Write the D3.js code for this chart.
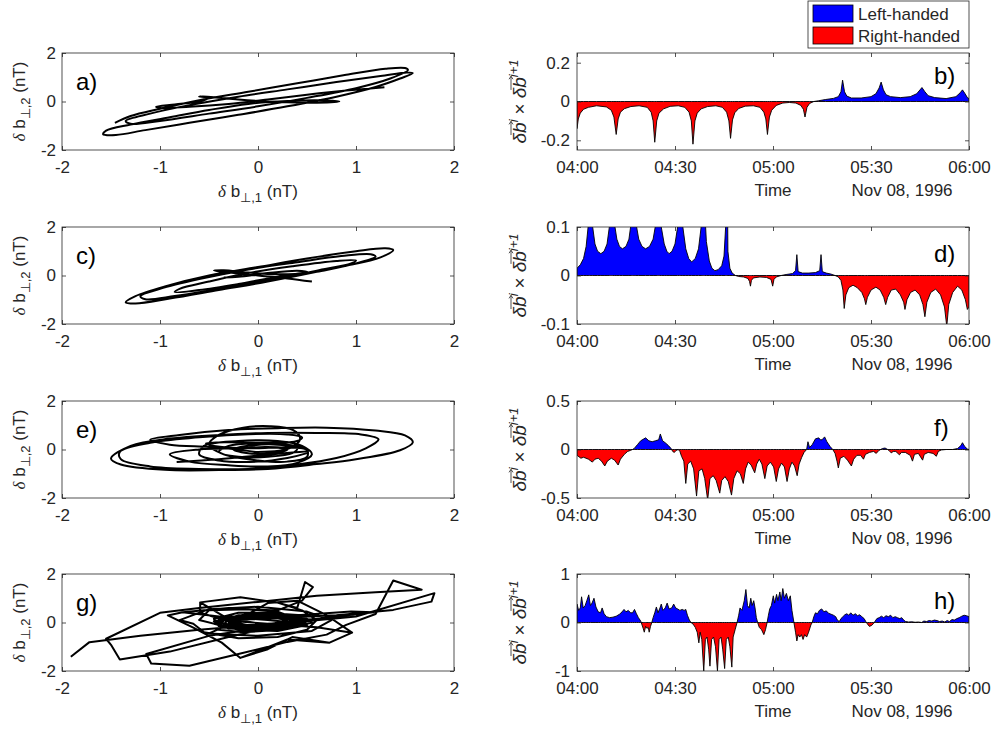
<!DOCTYPE html>
<html>
<head>
<meta charset="utf-8">
<script src="https://cdn.jsdelivr.net/npm/d3@7"></script>
<style>
  body { margin: 0; background: #fff; }
  text { font-family: "Liberation Sans", Arial, sans-serif; fill: #262626; }
</style>
</head>
<body>
<div id="chart"></div>
<script>
// ---- data ----
// hodograms: [delta b perp1, delta b perp2] in nT
var hodoA = [[1.29,0.59],[0.9,0.45],[0.5,0.28],[0.1,0.08],[-0.3,-0.1],[-0.7,-0.22],[-1.0,-0.27],[-1.04,-0.22],[-0.85,-0.12],[-0.6,0.0],
  [-0.5,0.15],[-0.6,0.21],[-0.45,0.18],[-0.2,0.08],[0.2,-0.02],[0.6,-0.05],[0.83,0.0],[0.7,0.04],[0.3,0.02],[-0.1,-0.1],
  [-0.5,-0.35],[-0.9,-0.65],[-1.3,-0.95],[-1.55,-1.2],[-1.58,-1.35],[-1.45,-1.38],[-1.15,-1.18],[-0.7,-0.88],[-0.2,-0.55],[0.3,-0.2],
  [0.8,0.2],[1.2,0.6],[1.45,0.95],[1.58,1.17],[1.52,1.2],[1.25,1.05],[0.8,0.8],[0.3,0.5],[-0.2,0.2],[-0.7,-0.15],
  [-1.1,-0.5],[-1.35,-0.8],[-1.3,-0.92],[-1.0,-0.8],[-0.5,-0.5],[0,-0.2],[0.5,0.15],[1.0,0.55],[1.35,0.95],[1.53,1.3],
  [1.5,1.38],[1.3,1.35],[0.9,1.1],[0.4,0.75],[-0.1,0.4],[-0.6,0.05],[-1.0,-0.3],[-1.3,-0.6],[-1.46,-0.88]];
var hodoC = [[0.55,-0.25],[0.3,-0.12],[0,0],[-0.3,0.12],[-0.45,0.2],[-0.35,0.22],[-0.1,0.12],[0.2,0.05],[0.5,0.1],[0.9,0.4],
  [1.25,0.75],[1.38,1.05],[1.3,1.12],[1.0,1.0],[0.5,0.7],[0,0.35],[-0.5,0.0],[-0.95,-0.45],[-1.25,-0.85],[-1.35,-1.1],
  [-1.25,-1.15],[-0.9,-0.95],[-0.4,-0.6],[0.1,-0.25],[0.6,0.15],[1.0,0.5],[1.2,0.78],[1.15,0.88],[0.85,0.8],[0.4,0.55],
  [-0.1,0.25],[-0.6,-0.15],[-1.0,-0.55],[-1.2,-0.85],[-1.15,-0.98],[-0.85,-0.85],[-0.4,-0.55],[0.1,-0.2],[0.6,0.2],[0.95,0.5],
  [1.0,0.62],[0.8,0.6],[0.35,0.38],[-0.1,0.1],[-0.5,-0.25],[-0.8,-0.55],[-0.85,-0.68],[-0.6,-0.6],[-0.2,-0.35],[0.2,-0.05],
  [0.5,0.15],[0.4,0.2],[0.1,0.1],[-0.2,-0.05],[-0.35,-0.08]];
var hodoE = [[-0.83,-0.52],[-0.4,-0.4],[0,-0.25],[0.35,-0.12],[0.52,-0.05],[0.45,0.05],[0.2,0.08],[-0.1,0.05],[-0.45,0.15],[-0.53,0.25],
  [-0.3,0.3],[0.1,0.28],[0.4,0.35],[0.45,0.5],[0.3,0.62],[-0.1,0.63],[-0.6,0.5],[-1.1,0.28],[-1.41,-0.1],[-1.4,-0.4],
  [-1.1,-0.7],[-0.6,-0.8],[-0.1,-0.8],[0.4,-0.62],[0.8,-0.35],[1.1,0.05],[1.23,0.42],[1.05,0.62],[0.6,0.68],[0.1,0.68],
  [-0.4,0.6],[-0.9,0.45],[-1.3,0.15],[-1.5,-0.38],[-1.4,-0.62],[-0.95,-0.84],[-0.4,-0.85],[0.1,-0.8],[0.6,-0.6],[1.0,-0.4],
  [1.45,-0.03],[1.58,0.3],[1.5,0.58],[1.2,0.78],[0.7,0.9],[0.2,0.88],[-0.3,0.8],[-0.8,0.6],[-1.1,0.4],[-0.9,0.2],
  [-0.5,0.1],[-0.2,0.0],[0,-0.1],[0.35,0.1],[0.43,0.45],[0.36,0.8],[0.12,0.96],[-0.15,0.9],[-0.4,0.6],[-0.5,0.2],
  [-0.35,-0.2],[0,-0.45],[0.3,-0.5],[0.5,-0.3],[0.5,0.0],[0.3,0.2],[0,0.25],[-0.3,0.15],[-0.4,-0.1],[-0.2,-0.3],
  [0.1,-0.3],[0.35,-0.15],[0.4,0.05],[0.2,0.2],[-0.1,0.15],[-0.25,0],[-0.1,-0.15],[0.15,-0.15],[0.3,0],[0.1,0.1],
  [-0.2,0.05],[-0.6,0],[-0.9,-0.2],[-0.7,-0.5],[-0.3,-0.65],[0.1,-0.7],[0.4,-0.55],[0.55,-0.2],[0.45,0.15],[0.2,0.35],
  [-0.2,0.35],[-0.55,0.15],[-0.6,-0.2],[-0.4,-0.45],[0,-0.5],[0.3,-0.35],[0.5,-0.15]];
var hodoG = [[-1.91,-1.41],[-1.72,-0.81],[-1.2,-0.55],[-0.6,-0.3],[0,-0.1],[0.6,0.15],[1.18,0.42],[0.95,0.45],[0.4,0.3],[-0.2,0.15],
  [-0.77,0.42],[-0.92,0.29],[-0.66,-0.21],[-0.37,-0.83],[-0.18,-1.46],[0.1,-1.1],[0.35,-0.6],[0.73,-0.83],[0.96,-0.42],[0.6,-0.2],
  [-0.4,0.1],[-0.1,0.35],[0.3,0.3],[0.5,0.05],[0.3,-0.25],[-0.1,-0.35],[-0.4,-0.15],[-0.45,0.15],[-0.2,0.4],[0.2,0.4],
  [0.45,0.2],[0.5,-0.1],[0.2,-0.35],[-0.2,-0.3],[-0.45,-0.05],[-0.3,0.25],[0.1,0.3],[0.4,0.1],[0.35,-0.2],[0,-0.25],
  [-0.35,-0.1],[-0.3,0.15],[0,0.2],[0.3,0.15],[0.45,-0.05],[0.2,-0.2],[-0.15,-0.2],[-0.4,0.0],[-0.2,0.3],[0.2,0.25],
  [0.5,0.15],[0.4,-0.15],[0.05,-0.3],[-0.3,-0.25],[-0.45,0.05],[-0.25,0.2],[0.1,0.1],[0.35,0.0],[0.15,-0.1],[-0.2,-0.1],
  [-0.59,0.83],[-0.18,1.04],[0.19,0.83],[0.4,0.6],[0.48,1.67],[0.56,1.46],[0.45,0.9],[0.2,0.5],[-0.1,0.55],[-0.5,0.5],
  [-0.6,0.1],[-0.3,-0.2],[0.2,-0.3],[0.45,0],[0.2,0.25],[-0.2,0.1],[0.1,-0.1],[0.3,0.1],[0.0,0.3],[-0.3,0.0],
  [0,-0.25],[-0.5,-0.55],[-1.14,-1.3],[-1.09,-1.69],[-0.7,-1.78],[-0.2,-1.3],[0.3,-0.8],[0.7,-0.5],[0.9,-0.1],[1.2,0.35],
  [1.38,1.73],[1.67,1.35],[1.2,1.25],[0.6,1.1],[0,0.85],[-0.6,0.6],[-1.0,0.4],[-1.55,-0.67],[-1.5,-0.92],[-1.41,-1.53],
  [-0.9,-1.2],[-0.3,-0.6],[0.35,0.0],[1.0,0.25],[1.8,1.21],[1.77,0.86],[1.38,0.52],[0.8,0.3],[0.2,0.2],[-0.35,0.1],
  [-0.05,0.25],[0.25,0.35],[0.45,0.3],[0.55,0],[0.25,-0.3],[-0.15,-0.4],[-0.4,-0.3],[-0.35,0.1],[0,0.15],[0.3,0.25],
  [0.55,0.1],[0.3,-0.1],[-0.05,-0.15],[-0.3,0.05],[-0.59,0.4],[-0.59,0.83],[-0.18,1.04],[0.19,0.83],[0.45,0.5],[0.6,0.1],
  [0.5,-0.3],[0.2,-0.6],[-0.2,-0.65],[-0.55,-0.4],[-0.66,-0.05],[-0.8,0.1],[-0.5,0.55],[0,0.65],[0.5,0.45],[0.75,0.1],
  [0.55,-0.35],[0,-0.55],[-0.5,-0.45],[-0.3,-0.1],[0.1,0.8],[0.4,0.9],[0.7,0.3],[0.96,-0.42],[0.73,-0.83],[0.3,-0.7],
  [-0.18,-1.46],[-0.37,-0.83],[-0.66,-0.21],[-0.92,0.29],[-0.77,0.42],[-0.3,0.6],[0.2,0.45],[0.4,0.15],[0.1,-0.2],[-0.25,-0.15]];

// helicity series: [minutes after 04:00, value]
var seriesB = [[0,-0.14],[0.4,-0.09],[1,-0.06],[2,-0.04],[3.5,-0.03],[6,-0.022],[9,-0.028],[10.5,-0.045],[11.3,-0.08],[12,-0.17],
  [12.6,-0.09],[13.3,-0.055],[14.5,-0.037],[16.5,-0.026],[19,-0.022],[21.5,-0.03],[22.7,-0.055],[23.3,-0.1],[23.8,-0.21],[24.4,-0.1],
  [25.1,-0.06],[26.5,-0.038],[28.5,-0.025],[31,-0.022],[33,-0.03],[34.3,-0.055],[35,-0.1],[35.5,-0.22],[36.1,-0.1],[36.8,-0.06],
  [38,-0.038],[40,-0.026],[42.5,-0.022],[44.5,-0.03],[45.8,-0.055],[46.5,-0.1],[47,-0.19],[47.6,-0.095],[48.3,-0.058],[49.5,-0.036],
  [51.5,-0.024],[54,-0.022],[56,-0.03],[57.2,-0.055],[57.8,-0.09],[58.3,-0.17],[58.9,-0.08],[59.6,-0.045],[61,-0.02],[63,-0.008],
  [65,-0.005],[67,-0.008],[68.5,-0.02],[69.3,-0.04],[69.8,-0.08],[70.4,-0.03],[71.2,-0.01],[72.5,0],[74,0.004],[76,0.01],
  [78.5,0.016],[80,0.025],[80.8,0.05],[81.3,0.11],[81.9,0.05],[82.6,0.028],[84,0.018],[87,0.018],[90,0.025],[91.5,0.04],
  [92.5,0.07],[93.1,0.1],[93.8,0.06],[94.6,0.035],[96,0.025],[99,0.02],[102,0.025],[104,0.04],[105,0.06],[105.6,0.072],
  [106.5,0.05],[107.5,0.03],[109.5,0.02],[113,0.015],[116,0.025],[117.3,0.045],[118,0.06],[118.8,0.04],[119.5,0.02],[120,0.015]];
var seriesD = [[0,0.015],[1,0.022],[2,0.035],[2.8,0.06],[3.4,0.1],[3.8,0.2],[4.0,0.35],[4.3,0.2],[4.8,0.1],[5.5,0.065],
  [6.3,0.05],[7.3,0.045],[8.3,0.05],[9.2,0.065],[9.9,0.1],[10.3,0.2],[10.6,0.35],[10.9,0.2],[11.4,0.11],[12.2,0.075],
  [13,0.06],[13.9,0.055],[15,0.06],[15.9,0.075],[16.6,0.11],[17,0.2],[17.2,0.35],[17.5,0.2],[18,0.11],[18.9,0.075],
  [19.9,0.06],[21,0.055],[22.2,0.06],[23.3,0.075],[24.2,0.11],[24.7,0.2],[24.9,0.35],[25.2,0.2],[25.8,0.1],[26.7,0.065],
  [27.5,0.05],[28.2,0.045],[29.1,0.05],[30,0.065],[30.8,0.1],[31.3,0.2],[31.5,0.35],[31.8,0.2],[32.4,0.1],[33.3,0.055],
  [34.2,0.035],[35.1,0.028],[36.2,0.035],[37.2,0.055],[38,0.1],[38.5,0.2],[38.7,0.35],[39,0.15],[39.6,0.07],[40.5,0.03],
  [41.3,0.015],[42.2,0.01],[43.2,0.012],[44.3,0.02],[45,0.04],[45.5,0.1],[45.7,0.3],[45.9,0.3],[46.2,0.05],[46.8,0.015],
  [47.5,0.005],[48.5,0],[49.5,-0.002],[51,-0.003],[52.3,-0.006],[52.8,-0.012],[53.1,-0.022],[53.4,-0.01],[54,-0.005],[56,-0.003],
  [58,-0.004],[59.4,-0.008],[59.9,-0.022],[60.3,-0.008],[61,-0.003],[62.5,0],[64,0.002],[66,0.004],[66.9,0.01],[67.3,0.043],
  [67.7,0.008],[69,0.005],[71,0.005],[73,0.006],[74.3,0.01],[74.7,0.043],[75.1,0.008],[76.3,0.005],[77.7,0.003],[79,0],
  [80,-0.003],[80.8,-0.01],[81.4,-0.03],[81.8,-0.068],[82.3,-0.04],[83.2,-0.025],[84.5,-0.02],[85.8,-0.025],[87.2,-0.035],[88,-0.048],
  [88.4,-0.06],[88.9,-0.045],[90,-0.03],[91.5,-0.024],[92.8,-0.03],[93.9,-0.045],[94.5,-0.06],[95.1,-0.045],[96.2,-0.03],[97.6,-0.028],
  [99,-0.04],[100,-0.055],[100.4,-0.07],[101,-0.05],[102.1,-0.035],[103.5,-0.03],[104.9,-0.04],[105.9,-0.06],[106.5,-0.085],[107.1,-0.055],
  [108.3,-0.035],[109.8,-0.028],[111.3,-0.04],[112.5,-0.065],[113.2,-0.105],[113.8,-0.06],[115,-0.035],[116.5,-0.022],[117.8,-0.03],[118.9,-0.05],
  [119.5,-0.07],[120,-0.065]];
var seriesF = [[0,-0.06],[1.2,-0.09],[2,-0.08],[3.5,-0.1],[4.7,-0.13],[5.5,-0.1],[6.5,-0.09],[7.5,-0.12],[8.5,-0.17],[9.3,-0.12],
  [10.5,-0.09],[11.5,-0.11],[12.6,-0.16],[13.3,-0.1],[14.5,-0.05],[15.5,-0.02],[16.3,-0.01],[17,0],[17.5,0.01],[18.5,0.05],
  [19.5,0.09],[21,0.12],[22,0.09],[23,0.08],[24,0.09],[25,0.1],[25.5,0.16],[26.2,0.09],[27,0.07],[28,0.04],
  [28.8,0.01],[29.3,-0.02],[29.8,-0.03],[30.3,-0.01],[31,0],[31.5,-0.02],[32,-0.07],[32.7,-0.12],[33.3,-0.35],[33.9,-0.15],
  [34.8,-0.12],[35.7,-0.2],[36.6,-0.48],[37.3,-0.22],[38.3,-0.2],[39.1,-0.3],[40,-0.52],[40.7,-0.3],[41.7,-0.27],[42.6,-0.32],
  [43.7,-0.45],[44.3,-0.32],[45.3,-0.28],[46.3,-0.33],[47.3,-0.47],[48,-0.3],[49,-0.22],[50,-0.25],[50.9,-0.35],[51.6,-0.2],
  [52.4,-0.13],[53.3,-0.16],[54.4,-0.24],[55,-0.15],[55.8,-0.1],[56.6,-0.15],[57.5,-0.3],[58.2,-0.17],[59.2,-0.13],[60.2,-0.18],
  [61,-0.33],[61.7,-0.2],[62.6,-0.14],[63.5,-0.18],[64.3,-0.33],[65,-0.2],[65.8,-0.13],[66.6,-0.17],[67.4,-0.27],[68,-0.15],
  [68.8,-0.08],[69.5,-0.03],[70.3,0],[70.7,0.08],[71.2,0.02],[72,0.05],[73,0.11],[74,0.12],[74.5,0.1],[75,0.1],
  [75.8,0.13],[76.5,0.08],[77.5,0.03],[78.3,0],[79,-0.04],[79.6,-0.12],[80,-0.19],[80.6,-0.09],[81.7,-0.07],[82.8,-0.11],
  [84,-0.17],[84.7,-0.1],[85.7,-0.06],[86.8,-0.06],[87.7,-0.1],[88.3,-0.05],[89.5,-0.03],[90.8,-0.02],[91.6,-0.04],[92.4,-0.01],
  [93.5,0.01],[94.3,0.015],[95.1,0],[95.5,-0.01],[96.2,-0.035],[96.8,-0.02],[97.6,-0.02],[98.7,-0.055],[99.3,-0.03],[100.5,-0.03],
  [102,-0.06],[102.7,-0.12],[103.3,-0.05],[104.5,-0.04],[105.8,-0.11],[106.3,-0.05],[107.5,-0.03],[109,-0.04],[110,-0.07],[110.6,-0.02],
  [111.5,-0.005],[113,0],[115,0],[116.5,0.01],[117.5,0.04],[118,0.07],[118.7,0.03],[119.5,0.005],[120,0]];
var seriesH = [[0,0.38],[0.5,0.25],[1,0.3],[1.4,0.53],[1.9,0.3],[2.5,0.35],[3,0.45],[3.6,0.57],[4.1,0.35],[4.6,0.4],
  [5.2,0.5],[5.8,0.32],[6.5,0.22],[7.2,0.2],[7.7,0.3],[8.3,0.18],[9,0.12],[10,0.1],[11,0.11],[12,0.13],
  [13,0.17],[13.8,0.22],[14.4,0.27],[15,0.22],[15.7,0.25],[16.4,0.2],[17,0.2],[17.6,0.27],[18.2,0.18],[18.8,0.1],
  [19.5,0.03],[19.9,-0.05],[20.3,-0.13],[20.6,-0.2],[21,-0.08],[21.4,-0.12],[21.8,-0.1],[22.1,-0.2],[22.5,-0.08],[22.9,0],
  [23.3,0.1],[23.8,0.2],[24.3,0.32],[24.8,0.2],[25.4,0.3],[25.8,0.38],[26.3,0.25],[27,0.3],[27.6,0.4],[28.2,0.28],
  [29,0.3],[29.6,0.38],[30.2,0.3],[30.8,0.28],[31.5,0.25],[32.2,0.27],[32.8,0.25],[33.3,0.27],[33.8,0.15],[34.4,0.05],
  [34.9,0],[35.5,-0.03],[36.2,-0.1],[36.8,-0.2],[37.3,-0.42],[37.7,-0.2],[38.2,-0.35],[38.8,-1.0],[39.3,-0.35],[39.8,-0.3],
  [40.3,-0.55],[40.7,-0.9],[41.2,-0.35],[41.8,-0.3],[42.4,-0.5],[43,-1.0],[43.5,-0.35],[44.1,-0.3],[44.6,-0.55],[45.2,-0.95],
  [45.7,-0.35],[46.3,-0.3],[46.8,-0.5],[47.4,-0.92],[47.8,-0.3],[48.4,-0.15],[49,0],[49.5,0.15],[49.9,0.3],[50.5,0.25],
  [51.2,0.45],[51.7,0.68],[52.2,0.35],[52.7,0.3],[53.2,0.5],[53.6,0.35],[54.1,0.45],[54.5,0.3],[54.9,0.1],[55.3,0],
  [55.8,-0.1],[56.5,-0.15],[57.2,-0.25],[57.7,-0.15],[58.2,0],[58.6,0.15],[59,0.28],[59.5,0.35],[60.1,0.55],[60.5,0.4],
  [61.1,0.58],[61.5,0.45],[62.1,0.63],[62.5,0.45],[63,0.7],[63.5,0.5],[64.1,0.6],[64.7,0.45],[65.3,0.55],[65.8,0.25],
  [66.4,0],[66.9,-0.2],[67.3,-0.38],[67.7,-0.25],[68.2,-0.3],[68.7,-0.25],[69.2,-0.35],[69.7,-0.25],[70.3,-0.3],[70.9,-0.2],
  [71.6,-0.05],[72,0],[72.5,0.12],[73,0.2],[73.6,0.18],[74.2,0.25],[74.9,0.28],[75.6,0.22],[76.3,0.24],[77,0.19],
  [77.8,0.17],[78.5,0.15],[79.2,0.12],[79.7,0.05],[80.3,0.02],[80.8,0.08],[81.4,0.12],[82,0.16],[82.6,0.18],[83.2,0.15],
  [83.8,0.2],[84.5,0.15],[85.2,0.18],[85.9,0.14],[86.5,0.16],[87.2,0.12],[87.9,0.08],[88.4,0.02],[88.9,-0.03],[89.5,-0.08],
  [90.2,-0.06],[90.8,-0.02],[91.3,0.03],[91.8,0.08],[92.5,0.1],[93.2,0.13],[93.9,0.1],[94.6,0.14],[95.3,0.12],[96,0.15],
  [96.7,0.1],[97.4,0.12],[98.1,0.1],[98.8,0.08],[99.4,0.1],[100,0.05],[100.6,0.02],[101.5,0.01],[102.5,0.015],[103.5,0.005],
  [104.5,0.01],[105.5,0],[106.2,0.03],[107,0.02],[107.8,0.04],[108.6,0.03],[109.4,0.05],[110.2,0.04],[111,0.02],[111.8,0.03],
  [112.6,0.01],[113.3,0.04],[114,0.02],[114.8,0.06],[115.5,0.05],[116.3,0.08],[117,0.1],[117.8,0.13],[118.5,0.15],[119.2,0.14],[120,0.12]];

// ticks and labels
var hodoXTicks = [-2, -1, 0, 1, 2];
var hodoYTicks = [-2, 0, 2];
var timeTicks = [0, 30, 60, 90, 120];
var timeLabels = ["04:00", "04:30", "05:00", "05:30", "06:00"];
var dateLabel = "Nov 08, 1996";
var seriesDomains = [[-0.25, 0.25], [-0.1, 0.1], [-0.5, 0.5], [-1, 1]];
var seriesTicks = [[-0.2, 0, 0.2], [-0.1, 0, 0.1], [-0.5, 0, 0.5], [-1, 0, 1]];
var leftLetters = ["a)", "c)", "e)", "g)"];
var rightLetters = ["b)", "d)", "f)", "h)"];
var legendLabels = ["Left-handed", "Right-handed"];
var legendColors = ["#0000ff", "#ff0000"];

function makeChart() {
  var svgWidth = 995;
  var svgHeight = 735;
  var rowTops = [53, 227, 401, 574];
  var panelH = 97;
  var panelW = 392;
  var leftX = 62;
  var rightX = 577;
  var ink = "#262626";

  var svg = d3.select("#chart").append("svg")
    .attr("width", svgWidth)
    .attr("height", svgHeight);
  var defs = svg.append("defs");

  function styleAxis(g) {
    g.select(".domain").remove();
    g.attr("font-size", 17)
      .attr("font-family", "Liberation Sans, Arial, sans-serif")
      .style("color", ink);
    g.selectAll(".tick line").attr("stroke-width", 0.8);
  }

  // box with inward ticks on all four sides (MATLAB style)
  function frame(g, x, y, labelPadX, labelPadY, xFmt) {
    g.append("g").attr("transform", `translate(0, ${panelH})`)
      .call(d3.axisBottom(x).tickValues(x.ticksList).tickSizeInner(-4).tickSizeOuter(0)
        .tickPadding(labelPadY).tickFormat(xFmt))
      .call(styleAxis);
    g.append("g")
      .call(d3.axisTop(x).tickValues(x.ticksList).tickSizeInner(-4).tickSizeOuter(0).tickFormat(""))
      .call(styleAxis);
    g.append("g")
      .call(d3.axisLeft(y).tickValues(y.ticksList).tickSizeInner(-4).tickSizeOuter(0)
        .tickPadding(labelPadX).tickFormat(d => String(d)))
      .call(styleAxis);
    g.append("g").attr("transform", `translate(${panelW}, 0)`)
      .call(d3.axisRight(y).tickValues(y.ticksList).tickSizeInner(-4).tickSizeOuter(0).tickFormat(""))
      .call(styleAxis);
    g.append("rect")
      .attr("width", panelW).attr("height", panelH)
      .attr("fill", "none").attr("stroke", ink).attr("stroke-width", 0.8);
  }

  function clipRect(id, x, y, w, h) {
    defs.append("clipPath").attr("id", id)
      .append("rect").attr("x", x).attr("y", y).attr("width", w).attr("height", h);
  }

  // perp label: delta b_{perp,n} (nT)
  function perpLabel(text, sub) {
    text.append("tspan").attr("font-family", "Liberation Serif, serif").attr("font-style", "italic").text("δ");
    text.append("tspan").text("\u00a0b");
    text.append("tspan").attr("font-size", 13).attr("dy", 5).text("⊥," + sub);
    text.append("tspan").attr("dy", -5).text("\u00a0(nT)");
  }

  // ---- left column: hodograms ----
  var hodos = [hodoA, hodoC, hodoE, hodoG];
  var curves = [d3.curveCatmullRom, d3.curveCatmullRom, d3.curveCatmullRom, d3.curveLinear];
  hodos.forEach(function(data, i) {
    var g = svg.append("g").attr("transform", `translate(${leftX}, ${rowTops[i]})`);
    var x = d3.scaleLinear().domain([-2, 2]).range([0, panelW]);
    var y = d3.scaleLinear().domain([-2, 2]).range([panelH, 0]);
    x.ticksList = hodoXTicks;
    y.ticksList = hodoYTicks;

    clipRect("hbox" + i, 0, 0, panelW, panelH);
    var line = d3.line().curve(curves[i]).x(d => x(d[0])).y(d => y(d[1]));
    g.append("path").datum(data)
      .attr("d", line)
      .attr("fill", "none")
      .attr("stroke", "#000")
      .attr("stroke-width", 2)
      .attr("stroke-linejoin", "round")
      .attr("clip-path", `url(#hbox${i})`);

    frame(g, x, y, 6, 11, d => String(d));

    g.append("text").attr("x", 14).attr("y", 37)
      .attr("font-size", 24).style("fill", "#000").text(leftLetters[i]);

    var xl = g.append("text")
      .attr("x", 196).attr("y", 144)
      .attr("text-anchor", "middle").attr("font-size", 17);
    perpLabel(xl, "1");

    var yl = svg.append("text")
      .attr("transform", `translate(25, ${rowTops[i] + panelH / 2}) rotate(-90)`)
      .attr("text-anchor", "middle").attr("font-size", 17);
    perpLabel(yl, "2");
  });

  // ---- right column: helicity time series ----
  var series = [seriesB, seriesD, seriesF, seriesH];
  series.forEach(function(data, i) {
    var g = svg.append("g").attr("transform", `translate(${rightX}, ${rowTops[i]})`);
    var x = d3.scaleLinear().domain([0, 120]).range([0, panelW]);
    var y = d3.scaleLinear().domain(seriesDomains[i]).range([panelH, 0]);
    x.ticksList = timeTicks;
    y.ticksList = seriesTicks[i];
    var y0 = y(0);

    clipRect("sbox" + i, 0, 0, panelW, panelH);
    clipRect("spos" + i, 0, 0, panelW, y0);
    clipRect("sneg" + i, 0, y0, panelW, panelH - y0);

    var area = d3.area().x(d => x(d[0])).y0(y0).y1(d => y(d[1]));
    g.append("path").datum(data).attr("d", area)
      .attr("fill", legendColors[0]).attr("clip-path", `url(#spos${i})`);
    g.append("path").datum(data).attr("d", area)
      .attr("fill", legendColors[1]).attr("clip-path", `url(#sneg${i})`);
    g.append("path").datum(data).attr("d", area)
      .attr("fill", "none").attr("stroke", "#000").attr("stroke-width", 0.9)
      .attr("stroke-linejoin", "round")
      .attr("clip-path", `url(#sbox${i})`);

    frame(g, x, y, 7, 11, (d, k) => timeLabels[k]);

    g.append("text").attr("x", 357).attr("y", i === 0 ? 31 : 35)
      .attr("font-size", 24).style("fill", "#000").text(rightLetters[i]);

    g.append("text").attr("x", panelW / 2).attr("y", panelH + 46)
      .attr("text-anchor", "middle").attr("font-size", 17).text("Time");
    g.append("text").attr("x", 325).attr("y", panelH + 46)
      .attr("text-anchor", "middle").attr("font-size", 17).text(dateLabel);

    // y label: vec(delta b)^i x vec(delta b)^(i+1)
    var lg = svg.append("g")
      .attr("transform", `translate(526, ${rowTops[i] + panelH / 2}) rotate(-90)`);
    var pieces = [
      {s: "δb", size: 19, dy: 0, vec: true},
      {s: "i", size: 13, dy: -8, after: 5},
      {s: "×", size: 19, dy: 0, upright: true, after: 5},
      {s: "δb", size: 19, dy: 0, vec: true},
      {s: "i+1", size: 13, dy: -8}
    ];
    var cursor = 0;
    var parts = [];
    pieces.forEach(function(p) {
      var t = lg.append("text")
        .attr("x", cursor).attr("y", p.dy)
        .attr("font-family", "Liberation Serif, serif")
        .attr("font-style", p.upright ? "normal" : "italic")
        .attr("font-size", p.size)
        .style("fill", ink)
        .text(p.s);
      var w = t.node().getComputedTextLength();
      parts.push({node: t, x: cursor, w: w, vec: p.vec});
      cursor += w + (p.after || 0);
    });
    var shift = -cursor / 2;
    parts.forEach(function(p) {
      p.node.attr("x", p.x + shift);
      if (p.vec) {
        var ax0 = p.x + shift + p.w * 0.4, ax1 = p.x + shift + p.w + 1, ay = -15;
        lg.append("path")
          .attr("d", `M${ax0},${ay}H${ax1}M${ax1 - 3},${ay - 2}L${ax1},${ay}L${ax1 - 3},${ay + 2}`)
          .attr("fill", "none").attr("stroke", ink).attr("stroke-width", 0.8);
      }
    });
  });

  // ---- legend ----
  var leg = svg.append("g").attr("transform", "translate(808, 1)");
  leg.append("rect").attr("width", 161).attr("height", 47)
    .attr("fill", "#fff").attr("stroke", ink).attr("stroke-width", 0.8);
  legendLabels.forEach(function(lbl, k) {
    leg.append("rect")
      .attr("x", 5).attr("y", 4 + k * 22)
      .attr("width", 40).attr("height", 17)
      .attr("fill", legendColors[k]).attr("stroke", "#000").attr("stroke-width", 0.8);
    leg.append("text").attr("x", 50).attr("y", 18.5 + k * 22)
      .attr("font-size", 17).text(lbl);
  });
}

makeChart();
</script>
</body>
</html>
